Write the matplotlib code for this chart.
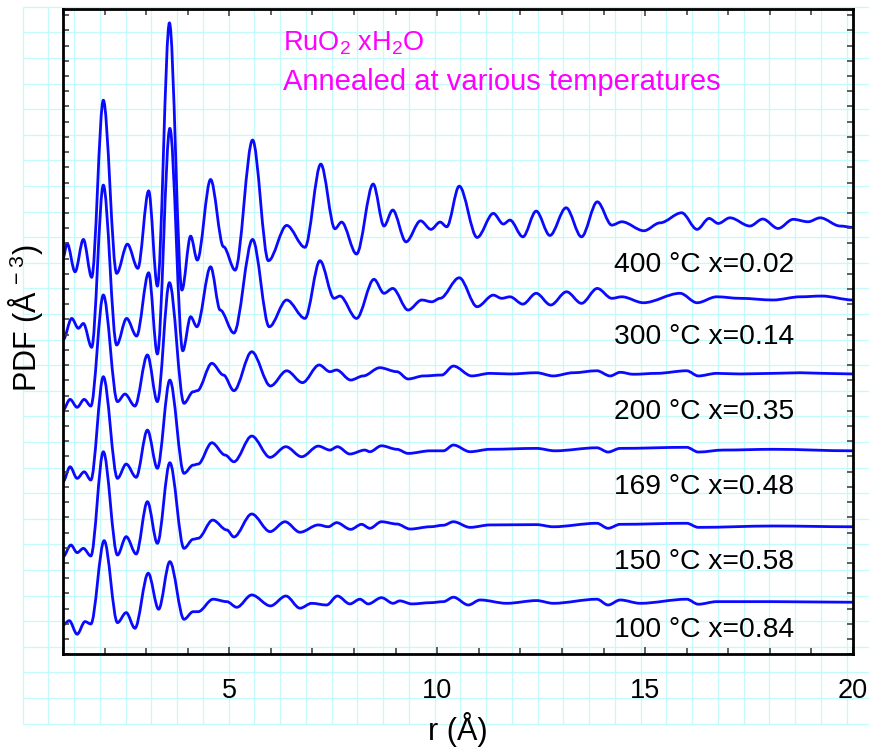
import matplotlib
matplotlib.use('Agg')
import matplotlib.pyplot as plt
from matplotlib.path import Path
from matplotlib.patches import PathPatch
from matplotlib.ticker import MultipleLocator, FixedLocator, NullFormatter

plt.rcParams['font.family'] = ['Liberation Sans', 'DejaVu Sans']
plt.rcParams['mathtext.default'] = 'regular'

# PDF curves (peaks, troughs and shoulders)
# r in Angstrom, G(r) relative to each curve's baseline
r400 = [1.00, 1.10, 1.29, 1.49, 1.69, 1.97, 2.29, 2.55, 2.80, 3.06, 3.27, 3.56, 3.86, 4.07, 4.23, 4.55,
        4.86, 5.14, 5.56, 5.94, 6.38, 6.82, 7.20, 7.54, 7.70, 8.06, 8.46, 8.72, 8.93, 9.25, 9.60, 9.85,
        10.07, 10.23, 10.53, 10.96, 11.35, 11.59, 11.75, 12.06, 12.38, 12.71, 13.10, 13.47, 13.85, 14.20,
        14.44, 14.97, 15.36, 15.88, 16.25, 16.54, 16.76, 17.04, 17.52, 17.83, 18.20, 18.56, 18.92, 19.21,
        19.69, 20.00]
g400 = [-2.04, -1.07, -2.94, -0.81, -3.30, 8.34, -3.04, -1.12, -2.71, 2.38, -3.88, 13.42, -4.14, -0.59, -2.17, 3.13,
        -1.29, -2.83, 5.72, -2.21, 0.11, -1.33, 4.14, -0.11, 0.33, -1.77, 2.83, 0.07, 1.12, -0.97, 0.41, -0.15,
        0.33, 0.02, 2.69, -0.68, 0.90, 0.20, 0.46, -0.64, 1.05, -0.55, 1.27, -0.64, 1.66, 0.13,
        0.35, -0.24, 0.28, 0.94, -0.15, 0.57, 0.24, 0.61, 0.07, 0.53, -0.09, 0.51, 0.35, 0.61,
        0.07, -0.02]

r300 = [1.00, 1.21, 1.37, 1.49, 1.69, 1.97, 2.29, 2.53, 2.77, 3.06, 3.27, 3.57, 3.88, 4.07, 4.22, 4.55,
        4.78, 5.11, 5.56, 5.96, 6.38, 6.82, 7.18, 7.52, 7.66, 8.06, 8.48, 8.72, 8.93, 9.30, 9.63, 9.87,
        10.07, 10.53, 10.96, 11.35, 11.55, 11.75, 12.06, 12.38, 12.73, 13.11, 13.47, 13.85, 14.20, 14.44,
        14.96, 15.84, 16.25, 16.72, 17.28, 18.08, 18.73, 19.25, 20.00]
g300 = [-2.79, -1.37, -2.02, -1.70, -3.27, 7.39, -3.12, -1.37, -2.53, 1.63, -3.71, 11.12, -3.50, -1.26, -1.92, 2.02,
        -0.82, -2.33, 3.82, -1.92, -0.16, -1.37, 2.42, -0.05, 0.10, -1.37, 1.20, 0.28, 0.60, -0.82, -0.16, -0.28,
        -0.05, 1.30, -0.60, 0.16, -0.05, 0.05, -0.43, 0.28, -0.49, 0.38, -0.38, 0.60, -0.05, 0.05,
        -0.34, 0.28, -0.34, 0.05, -0.05, -0.16, 0.05, 0.10, -0.16]

r200 = [1.00, 1.17, 1.34, 1.51, 1.67, 1.97, 2.31, 2.49, 2.73, 3.03, 3.27, 3.56, 3.91, 4.13, 4.23, 4.58,
        4.86, 5.11, 5.54, 5.99, 6.38, 6.76, 7.16, 7.42, 7.58, 7.92, 8.22, 8.62, 9.03, 9.30, 9.67, 10.11,
        10.39, 10.83, 11.27, 11.75, 12.39, 12.79, 13.27, 13.84, 14.16, 14.40, 14.72, 15.28, 16.00, 16.28,
        16.72, 17.28, 18.08, 18.73, 19.29, 20.00]
g200 = [-2.40, -1.70, -2.22, -1.70, -2.14, 5.16, -1.85, -1.35, -2.14, 1.22, -1.85, 5.97, -1.96, -1.20, -1.13, 0.67,
        -0.10, -1.13, 1.43, -0.82, 0.18, -0.60, 0.56, 0.12, 0.23, -0.43, -0.16, 0.38, 0.12, -0.36, -0.16, -0.10,
        0.49, -0.16, 0.01, -0.03, 0.05, -0.16, 0.05, 0.18, -0.16, 0.08, -0.05, 0.01, 0.18, -0.16,
        0.01, -0.03, 0.01, 0.05, 0.01, -0.03]

r169 = [1.00, 1.17, 1.34, 1.51, 1.67, 1.97, 2.31, 2.52, 2.76, 3.03, 3.27, 3.57, 3.91, 4.13, 4.25, 4.58,
        4.90, 5.11, 5.54, 5.98, 6.36, 6.74, 7.14, 7.42, 7.60, 7.90, 8.26, 8.38, 8.66, 9.03, 9.30, 9.83,
        10.15, 10.39, 10.79, 11.27, 12.39, 12.83, 13.84, 14.11, 14.40, 16.00, 16.28, 16.88, 18.08, 20.00]
g169 = [-2.08, -1.10, -1.86, -1.43, -1.97, 4.82, -1.86, -0.92, -1.79, 1.31, -1.20, 4.60, -1.53, -0.99, -0.92, 0.48,
        -0.33, -0.77, 0.92, -0.48, 0.22, -0.44, 0.26, 0.00, 0.22, -0.26, 0.00, -0.11, 0.28, 0.05, -0.22, -0.05,
        -0.05, 0.33, -0.11, 0.05, 0.11, -0.05, 0.15, -0.13, 0.11, 0.18, -0.13, 0.00, 0.05, -0.05]

r150 = [1.00, 1.19, 1.34, 1.49, 1.67, 1.97, 2.31, 2.52, 2.76, 3.03, 3.27, 3.57, 3.91, 4.13, 4.25, 4.60,
        4.94, 5.11, 5.54, 5.98, 6.34, 6.70, 7.14, 7.38, 7.58, 7.92, 8.18, 8.38, 8.66, 9.03, 9.35, 9.83,
        10.15, 10.39, 10.79, 11.27, 12.39, 12.79, 13.84, 14.11, 14.40, 16.00, 16.28, 18.08, 20.00]
g150 = [-2.02, -1.25, -1.75, -1.47, -1.97, 4.88, -1.91, -0.70, -1.84, 1.60, -1.14, 4.16, -1.47, -0.87, -0.81, 0.39,
        -0.26, -0.72, 0.79, -0.37, 0.28, -0.41, 0.07, -0.05, 0.22, -0.22, 0.11, -0.15, 0.28, 0.13, -0.20, -0.05,
        0.05, 0.28, -0.09, 0.07, 0.09, -0.05, 0.18, -0.15, 0.11, 0.18, -0.09, 0.00, -0.05]

r100 = [1.00, 1.15, 1.34, 1.53, 1.67, 1.99, 2.31, 2.52, 2.73, 3.05, 3.30, 3.57, 3.91, 4.13, 4.25, 4.61,
        4.94, 5.18, 5.54, 5.99, 6.36, 6.70, 6.98, 7.34, 7.60, 7.90, 8.14, 8.34, 8.66, 8.94, 9.10, 9.39,
        9.83, 10.15, 10.39, 10.75, 11.03, 11.67, 12.39, 12.79, 13.84, 14.11, 14.40, 14.88, 16.00, 16.28,
        16.72, 18.08, 20.00]
g100 = [-1.51, -1.23, -2.12, -1.29, -1.45, 4.03, -1.36, -0.70, -1.73, 1.89, -0.48, 2.65, -1.14, -0.64, -0.64, 0.18,
        0.02, -0.35, 0.46, -0.26, 0.39, -0.41, -0.09, -0.20, 0.39, -0.13, 0.18, -0.13, 0.28, -0.09, 0.07, -0.13,
        -0.05, 0.02, 0.31, -0.20, 0.13, -0.09, 0.09, -0.09, 0.18, -0.20, 0.13, -0.09, 0.18, -0.15,
        0.02, 0.02, -0.02]

# Samples (bottom to top), vertical offsets and labels
temps = [100, 150, 169, 200, 300, 400]
water = [0.84, 0.58, 0.48, 0.35, 0.14, 0.02]
offsets = [3.44, 8.43, 13.42, 18.45, 23.44, 28.07]
label_y = [1.60, 6.08, 11.01, 15.94, 20.87, 25.58]
curves = [(r100, g100), (r150, g150), (r169, g169), (r200, g200), (r300, g300), (r400, g400)]

W, H = 869, 747


def smooth_path(r, y):
    # cubic segments with flat tangents at every read point (peaks/troughs)
    verts = [(r[0], y[0])]
    codes = [Path.MOVETO]
    for i in range(1, len(r)):
        h = (r[i] - r[i-1]) / 3.0
        verts += [(r[i-1] + h, y[i-1]), (r[i] - h, y[i]), (r[i], y[i])]
        codes += [Path.CURVE4] * 3
    return Path(verts, codes)


def draw_paper(fig):
    # graph paper behind the whole figure
    bg = fig.add_axes([0, 0, 1, 1], zorder=0)
    bg.set_xlim(0, W)
    bg.set_ylim(H, 0)
    bg.axis('off')
    x0, y0, dx, dy = 22.7, 6.7, 25.75, 25.6
    xs = [x0 + dx*k for k in range(33)]
    ys = [y0 + dy*k for k in range(29)]
    bg.vlines(xs, ys[0], ys[-1], color='#c4fafa', lw=0.9)
    bg.hlines(ys, xs[0], W, color='#c4fafa', lw=0.9)


def plot_pdf():
    fig = plt.figure(figsize=(W/100, H/100), dpi=100)
    draw_paper(fig)

    ax = fig.add_axes([63/W, 1-654.3/H, 790/W, 645.6/H], zorder=1)
    ax.set_facecolor('none')

    for (r, g), off in zip(curves, offsets):
        path = smooth_path(r, [v + off for v in g])
        ax.add_patch(PathPatch(path, fill=False, edgecolor='#0a0aff', lw=2.0, joinstyle='round'))

    for t, xw, yl in zip(temps, water, label_y):
        ax.text(14.25, yl, '%d \u00b0C x=%.2f' % (t, xw), fontsize=20.3, va='center', ha='left')

    ax.text(6.29, 40.16, 'RuO$_2$ xH$_2$O', color='#ff00ff', fontsize=19.5, va='center', ha='left')
    ax.text(6.29, 37.60, 'Annealed at various temperatures', color='#ff00ff', fontsize=21,
            va='center', ha='left')

    # Axes configuration
    ax.set_xlim(1, 20)
    ax.set_ylim(0, 42.42)
    ax.xaxis.set_major_locator(FixedLocator([5, 10, 15, 20]))
    ax.xaxis.set_minor_locator(MultipleLocator(1))
    ax.yaxis.set_major_locator(MultipleLocator(1))
    ax.yaxis.set_major_formatter(NullFormatter())
    ax.tick_params(axis='both', which='both', direction='in', top=True, right=True,
                   color='#444444', width=1.2)
    ax.tick_params(axis='x', which='major', length=5, labelsize=19.5, pad=17)
    ax.tick_params(axis='x', which='minor', length=4)
    ax.tick_params(axis='y', which='major', length=4)
    for s in ax.spines.values():
        s.set_linewidth(2)

    ax.set_xlabel('r (\u00c5)', fontsize=22)
    ax.xaxis.set_label_coords(0.5, -0.117)
    ax.xaxis.label.set_va('center')
    ax.set_ylabel('PDF (\u00c5$^{\\,-3}$)', fontsize=22)
    ax.yaxis.set_label_coords(-0.048, 0.52)
    ax.yaxis.label.set_va('center')

    fig.savefig('out.png', dpi=100)


plot_pdf()
